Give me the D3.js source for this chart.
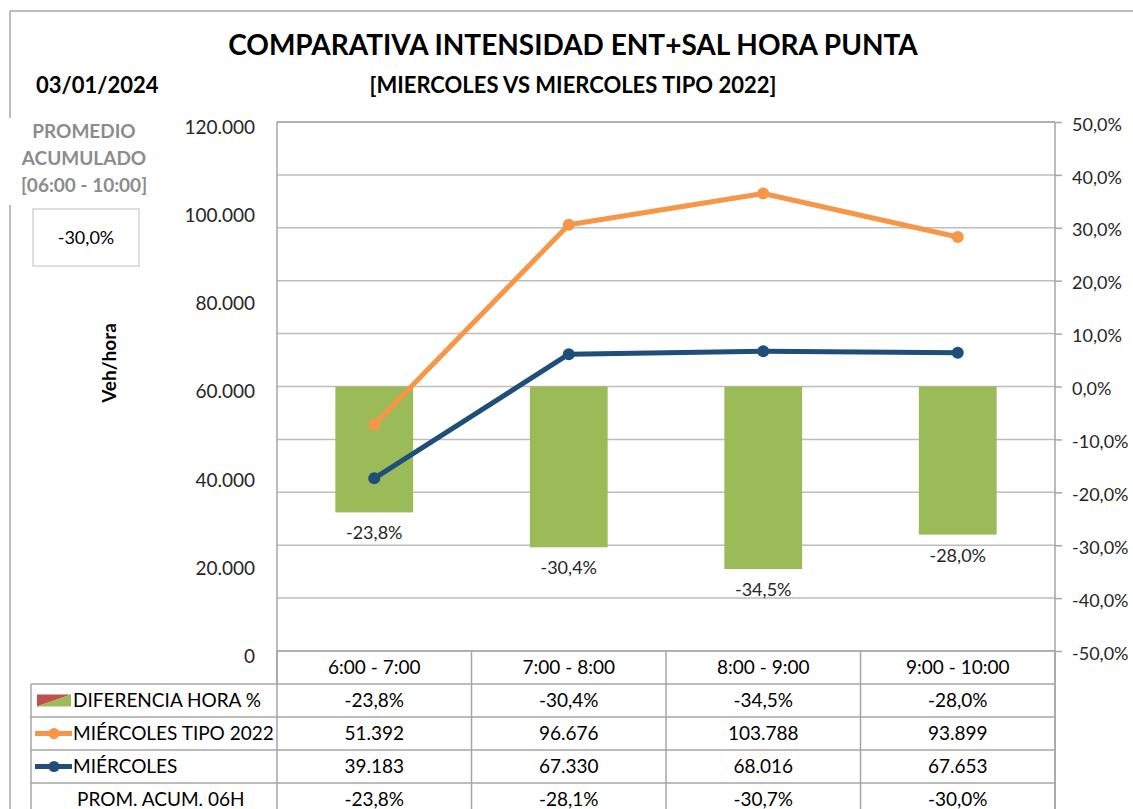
<!DOCTYPE html>
<html>
<head>
<meta charset="utf-8">
<script src="https://cdn.jsdelivr.net/npm/d3@7"></script>
<style>
  body { margin: 0; background: #fff; }
  svg { font-family: Lato, "Open Sans", sans-serif; }
</style>
</head>
<body>
<svg id="chart" width="1133" height="809"></svg>
<script>
// data
var categories = ["6:00 - 7:00", "7:00 - 8:00", "8:00 - 9:00", "9:00 - 10:00"];
var diferencia = [-0.238, -0.304, -0.345, -0.280];
var tipo2022 = [51392, 96676, 103788, 93899];
var miercoles = [39183, 67330, 68016, 67653];
var promAcum = [-0.238, -0.281, -0.307, -0.300];
var leftTicks = [0, 20000, 40000, 60000, 80000, 100000, 120000];
var rightTicks = [-0.5, -0.4, -0.3, -0.2, -0.1, 0, 0.1, 0.2, 0.3, 0.4, 0.5];

var locale = d3.formatLocale({decimal: ",", thousands: ".", grouping: [3], currency: ["", "€"], minus: "-"});
var fmtNum = locale.format(",.0f");
var fmtPct = locale.format(".1%");

var colGreen = "#9BBB59", colRed = "#C0504D", colOrange = "#F79646", colBlue = "#1F4E79";
var gridCol = "#BDBDBD", borderCol = "#A6A6A6";

var svg = d3.select("#chart");

var plot = {left: 277, right: 1055, top: 122, bottom: 651};
var rowH = 33;

var x = d3.scaleBand()
    .domain(categories)
    .range([plot.left, plot.right])
    .paddingInner(0.6)
    .paddingOuter(0.3);
var step = x.step();
var xc = function(d) { return x(d) + x.bandwidth() / 2; };

var yL = d3.scaleLinear().domain([0, 120000]).range([plot.bottom, plot.top]);
var yR = d3.scaleLinear().domain([-0.5, 0.5]).range([plot.bottom, plot.top]);

// outer frame
svg.append("line").attr("x1", 10).attr("x2", 1133).attr("y1", 11).attr("y2", 11)
    .attr("stroke", borderCol).attr("stroke-width", 1.5);
svg.append("line").attr("x1", 10).attr("x2", 10).attr("y1", 11).attr("y2", 118)
    .attr("stroke", borderCol).attr("stroke-width", 1.5);
svg.append("line").attr("x1", 10).attr("x2", 10).attr("y1", 205).attr("y2", 809)
    .attr("stroke", borderCol).attr("stroke-width", 1.5);

// titles
svg.append("text").attr("x", 573).attr("y", 55).attr("text-anchor", "middle")
    .attr("font-size", 28).attr("font-weight", "bold").attr("fill", "#000")
    .text("COMPARATIVA INTENSIDAD ENT+SAL HORA PUNTA");
svg.append("text").attr("x", 573).attr("y", 93).attr("text-anchor", "middle")
    .attr("font-size", 22).attr("font-weight", "bold").attr("fill", "#000")
    .text("[MIERCOLES VS MIERCOLES TIPO 2022]");
svg.append("text").attr("x", 36).attr("y", 93)
    .attr("font-size", 22).attr("font-weight", "bold").attr("fill", "#000")
    .text("03/01/2024");

// promedio box
var promLines = ["PROMEDIO", "ACUMULADO", "[06:00 - 10:00]"];
svg.append("g").selectAll("text").data(promLines).enter().append("text")
    .attr("x", 84).attr("y", function(d, i) { return 138 + i * 27; })
    .attr("text-anchor", "middle").attr("font-size", 19).attr("font-weight", "bold")
    .attr("fill", "#8C8C8C").text(function(d) { return d; });
svg.append("rect").attr("x", 33).attr("y", 209).attr("width", 106).attr("height", 57)
    .attr("fill", "none").attr("stroke", "#C8C8C8").attr("stroke-width", 1.2);
svg.append("text").attr("x", 86).attr("y", 244).attr("text-anchor", "middle")
    .attr("font-size", 18).attr("fill", "#000")
    .text(fmtPct(promAcum[promAcum.length - 1]));

// y title
svg.append("text").attr("transform", "translate(116,363) rotate(-90)")
    .attr("text-anchor", "middle").attr("font-size", 19).attr("font-weight", "bold")
    .text("Veh/hora");

// gridlines (follow right axis)
svg.append("g").selectAll("line").data(rightTicks).enter().append("line")
    .attr("x1", plot.left).attr("x2", plot.right)
    .attr("y1", function(d) { return yR(d); }).attr("y2", function(d) { return yR(d); })
    .attr("stroke", gridCol).attr("stroke-width", 1.5);

// left axis
var axL = svg.append("g").attr("transform", "translate(" + (plot.left - 19) + ",0)")
    .call(d3.axisLeft(yL).tickValues(leftTicks).tickSize(0).tickFormat(fmtNum));
axL.select(".domain").remove();
axL.selectAll("text").attr("font-size", 19).attr("font-family", "Lato").attr("fill", "#262626").attr("dy", "0.6em");

// right axis
var axR = svg.append("g").attr("transform", "translate(" + plot.right + ",0)")
    .call(d3.axisRight(yR).tickValues(rightTicks).tickSize(7).tickPadding(10).tickFormat(fmtPct));
axR.select(".domain").remove();
axR.selectAll("line").attr("stroke", borderCol).attr("stroke-width", 1.5);
axR.selectAll("text").attr("font-size", 18).attr("font-family", "Lato").attr("fill", "#262626").attr("dy", "0.45em");

// bars
svg.append("g").selectAll("rect").data(categories).enter().append("rect")
    .attr("x", function(d) { return x(d); })
    .attr("width", x.bandwidth())
    .attr("y", yR(0))
    .attr("height", function(d, i) { return yR(diferencia[i]) - yR(0); })
    .attr("fill", colGreen);

// bar labels
svg.append("g").selectAll("text").data(categories).enter().append("text")
    .attr("x", xc)
    .attr("y", function(d, i) { return yR(diferencia[i]) + 27; })
    .attr("text-anchor", "middle").attr("font-size", 18).attr("fill", "#262626")
    .text(function(d, i) { return fmtPct(diferencia[i]); });

// lines
function drawLine(values, color) {
  var line = d3.line()
      .x(function(d, i) { return xc(categories[i]); })
      .y(function(d) { return yL(d); });
  svg.append("path").datum(values)
      .attr("d", line).attr("fill", "none")
      .attr("stroke", color).attr("stroke-width", 5).attr("stroke-linejoin", "round");
  svg.append("g").selectAll("circle").data(values).enter().append("circle")
      .attr("cx", function(d, i) { return xc(categories[i]); })
      .attr("cy", function(d) { return yL(d); })
      .attr("r", 6).attr("fill", color);
}
drawLine(tipo2022, colOrange);
drawLine(miercoles, colBlue);

// plot border
svg.append("line").attr("x1", plot.left).attr("x2", plot.right).attr("y1", plot.top).attr("y2", plot.top)
    .attr("stroke", borderCol).attr("stroke-width", 1.5);
svg.append("line").attr("x1", plot.left).attr("x2", plot.left).attr("y1", plot.top).attr("y2", plot.bottom + rowH)
    .attr("stroke", borderCol).attr("stroke-width", 1.5);
svg.append("line").attr("x1", plot.right).attr("x2", plot.right).attr("y1", plot.top).attr("y2", 809)
    .attr("stroke", borderCol).attr("stroke-width", 1.5);

// data table
var table = svg.append("g");
var rows = [
  {name: "DIFERENCIA HORA %", key: "bar", values: diferencia, fmt: fmtPct},
  {name: "MIÉRCOLES TIPO 2022", key: "line", color: colOrange, values: tipo2022, fmt: fmtNum},
  {name: "MIÉRCOLES", key: "line", color: colBlue, values: miercoles, fmt: fmtNum},
  {name: "PROM. ACUM. 06H", key: "none", values: promAcum, fmt: fmtPct}
];
var tableTop = plot.bottom;
var colEdges = categories.map(function(d) { return x(d) - step * 0.3; }).concat([plot.right]);

// header row
table.selectAll(".hdr").data(categories).enter().append("text")
    .attr("x", xc).attr("y", tableTop + rowH / 2 + 6)
    .attr("text-anchor", "middle").attr("font-size", 19).attr("fill", "#000")
    .text(function(d) { return d; });

// horizontal rules
var hy = d3.range(rows.length + 2).map(function(i) { return tableTop + i * rowH; });
table.selectAll(".hr").data(hy).enter().append("line")
    .attr("x1", function(d, i) { return i < 1 ? plot.left : 31; })
    .attr("x2", plot.right)
    .attr("y1", function(d) { return d; }).attr("y2", function(d) { return d; })
    .attr("stroke", borderCol).attr("stroke-width", 1.5);
// vertical rules
table.selectAll(".vr").data(colEdges).enter().append("line")
    .attr("x1", function(d) { return d; }).attr("x2", function(d) { return d; })
    .attr("y1", tableTop).attr("y2", 809)
    .attr("stroke", borderCol).attr("stroke-width", 1.5);
table.append("line").attr("x1", 31).attr("x2", 31).attr("y1", tableTop + rowH).attr("y2", 809)
    .attr("stroke", borderCol).attr("stroke-width", 1.5);

rows.forEach(function(r, ri) {
  var cy = tableTop + (ri + 1) * rowH + rowH / 2;
  if (r.key === "bar") {
    table.append("path").attr("d", "M37," + (cy - 6) + "H71L37," + (cy + 6) + "Z").attr("fill", colRed);
    table.append("path").attr("d", "M71," + (cy - 6) + "V" + (cy + 6) + "H37Z").attr("fill", colGreen);
  } else if (r.key === "line") {
    table.append("line").attr("x1", 35).attr("x2", 72).attr("y1", cy).attr("y2", cy)
        .attr("stroke", r.color).attr("stroke-width", 5);
    table.append("circle").attr("cx", 54).attr("cy", cy).attr("r", 5.5).attr("fill", r.color);
  }
  table.append("text").attr("x", r.key === "none" ? 77 : 73).attr("y", cy + 6)
      .attr("font-size", 19).attr("fill", "#000").text(r.name);
  table.selectAll(null).data(r.values).enter().append("text")
      .attr("x", function(d, i) { return xc(categories[i]); })
      .attr("y", cy + 6).attr("text-anchor", "middle").attr("font-size", 19).attr("fill", "#000")
      .text(function(d) { return r.fmt(d); });
});
</script>
</body>
</html>
